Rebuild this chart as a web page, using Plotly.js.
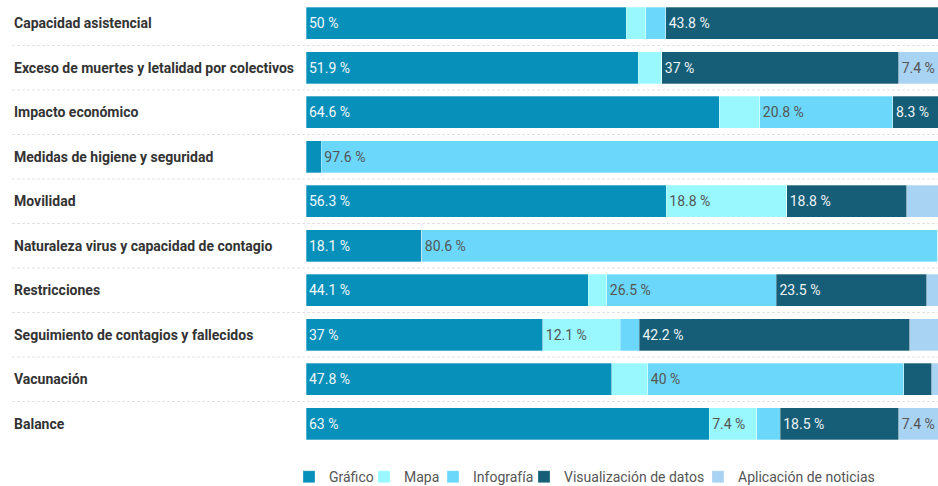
<!DOCTYPE html>
<html>
<head>
<meta charset="utf-8">
<script src="https://cdn.plot.ly/plotly-3.0.1.min.js"></script>
<style>html,body{margin:0;padding:0;background:#fff}#chart{width:938px;height:486px}</style>
</head>
<body>
<div id="chart"></div>
<script>
const categories = [
  "Capacidad asistencial",
  "Exceso de muertes y letalidad por colectivos",
  "Impacto económico",
  "Medidas de higiene y seguridad",
  "Movilidad",
  "Naturaleza virus y capacidad de contagio",
  "Restricciones",
  "Seguimiento de contagios y fallecidos",
  "Vacunación",
  "Balance"
];
const seriesNames = ["Gráfico", "Mapa", "Infografía", "Visualización de datos", "Aplicación de noticias"];
const grafico        = [50.0, 51.9, 64.6,  2.4, 56.3, 18.1, 44.1, 37.0, 47.8, 63.0];
const mapa           = [ 3.1,  3.7,  6.3,  0.0, 18.8,  0.0,  2.9, 12.1,  5.6,  7.4];
const infografia     = [ 3.1,  0.0, 20.8, 97.6,  0.0, 80.6, 26.5,  3.0, 40.0,  3.7];
const visualizacion  = [43.8, 37.0,  8.3,  0.0, 18.8,  0.0, 23.5, 42.2,  4.4, 18.5];
const aplicacion     = [ 0.0,  7.4,  0.0,  0.0,  6.3,  1.3,  2.9,  5.7,  2.2,  7.4];

const seriesValues = [grafico, mapa, infografia, visualizacion, aplicacion];
const seriesColors = ["#0790ba", "#98f8fe", "#6bd8fb", "#165e77", "#a9d3f2"];
const textColors   = ["#f2f8fb", "#555555", "#555555", "#eef4f6", "#555555"];

const plotLeft = 306, plotWidth = 632, labelLeft = 12;
const labelX = (labelLeft - plotLeft) / plotWidth;
// legend text start positions (pixels) for each legend entry
const legendTextPx = [326, 401, 470, 561, 735];
const legendIds = ["legend", "legend2", "legend3", "legend4", "legend5"];

const traces = seriesValues.map((vals, i) => ({
  type: "bar",
  orientation: "h",
  name: seriesNames[i],
  legend: legendIds[i],
  y: categories,
  x: vals,
  marker: {color: seriesColors[i], line: {color: "rgba(255,255,255,0.6)", width: 0.5}},
  text: vals.map(v => v >= 7 ? v + " %" : ""),
  textposition: "inside",
  insidetextanchor: "start",
  constraintext: "none",
  textfont: {family: "Roboto, sans-serif", size: 14, color: textColors[i]},
  hoverinfo: "name+x",
  cliponaxis: true
}));

const annotations = categories.map(c => ({
  xref: "paper", yref: "y", x: labelX, y: c, xanchor: "left", yanchor: "middle",
  text: c, showarrow: false,
  font: {family: "Roboto, sans-serif", size: 14, color: "#333333", weight: "bold"}
}));

const shapes = categories.slice(0, -1).map((c, i) => ({
  type: "line", xref: "paper", yref: "y",
  x0: labelX, x1: 1, y0: i + 0.5, y1: i + 0.5,
  line: {color: "#e2e2e2", width: 1, dash: "3px,2px"},
  layer: "below"
}));

const layout = {
  width: 938, height: 486,
  margin: {l: plotLeft, r: 0, t: 1, b: 40, pad: 0, autoexpand: false},
  paper_bgcolor: "#ffffff", plot_bgcolor: "#ffffff",
  barmode: "stack", bargap: 0.27,
  xaxis: {range: [0, 98.75], visible: false, fixedrange: true},
  yaxis: {autorange: "reversed", showticklabels: false, showgrid: false, zeroline: false, showline: false, ticks: ""},
  showlegend: true,
  annotations: annotations,
  shapes: shapes,
  font: {family: "Roboto, sans-serif"}
};
legendIds.forEach((id, i) => {
  layout[id] = {
    orientation: "h", x: (legendTextPx[i] - 37 - plotLeft) / plotWidth, xanchor: "left",
    y: -0.034, yanchor: "top",
    font: {family: "Roboto, sans-serif", size: 14, color: "#555555"},
    bgcolor: "rgba(0,0,0,0)"
  };
});

Plotly.newPlot("chart", traces, layout, {displayModeBar: false, staticPlot: true});
</script>
</body>
</html>
